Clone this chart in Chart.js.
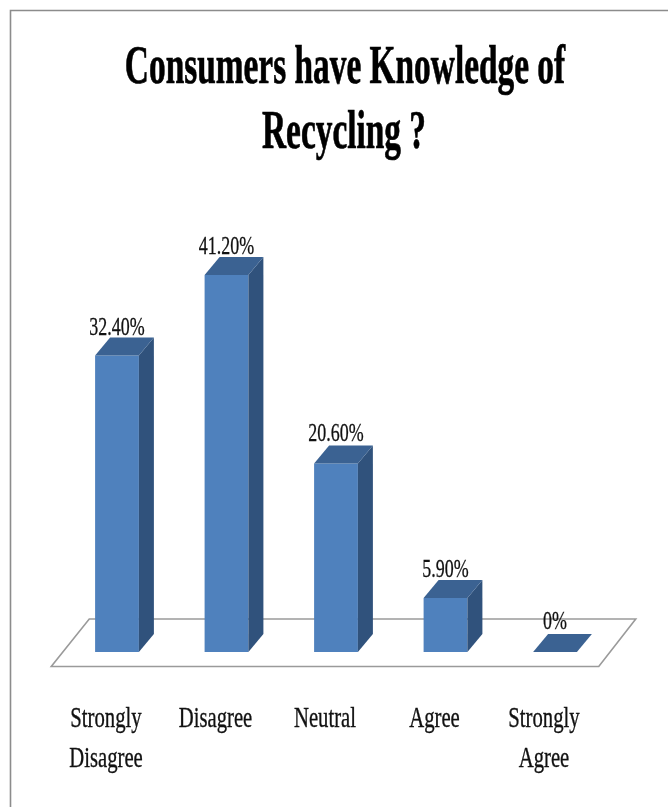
<!DOCTYPE html>
<html><head><meta charset="utf-8">
<style>html,body{margin:0;padding:0;background:#fff}canvas{display:block}</style>
<script src="https://cdn.jsdelivr.net/npm/chart.js@4"></script></head>
<body><canvas id="c" width="668" height="807"></canvas>
<script>
const categories=[["Strongly","Disagree"],"Disagree","Neutral","Agree",["Strongly","Agree"]];
const values=[32.4,41.2,20.6,5.9,0];
const valueLabels=["32.40%","41.20%","20.60%","5.90%","0%"];
const titleLines=["Consumers have Knowledge of","Recycling ?"];
const DX=15,DY=18,SERIF='"Liberation Serif"';
function squeezed(c,text,x,y,font,sx,color,weight){
 c.save();c.font=font;c.fillStyle=color;c.strokeStyle=color;c.lineWidth=weight;c.textAlign='center';c.textBaseline='alphabetic';
 c.filter='blur(0.45px)';c.translate(x,y);c.scale(sx,1);c.strokeText(text,0,0);c.fillText(text,0,0);c.restore();
}
const depth={id:'depth',
beforeDatasetsDraw(ch){const c=ch.ctx,x=ch.scales.x,y0=ch.scales.y.getPixelForValue(0);
 c.save();
 c.strokeStyle='#8c8c8c';c.lineWidth=1.6;c.beginPath();c.moveTo(10.5,807);c.lineTo(10.5,10.5);c.lineTo(668,10.5);c.stroke();
 c.fillStyle='#fff';c.strokeStyle='#9a9a9a';c.lineWidth=1.6;c.beginPath();
 c.moveTo(x.left-11,y0+14.5);c.lineTo(x.right-11,y0+14.5);c.lineTo(x.right+26,y0-33);c.lineTo(x.left+27,y0-33);c.closePath();c.fill();c.stroke();c.restore();},
afterDatasetsDraw(ch){const c=ch.ctx,m=ch.getDatasetMeta(0),x=ch.scales.x;c.save();
 m.data.forEach((b,i)=>{const w=b.width,l=b.x-w/2,r=b.x+w/2,t=b.y,bt=b.base;
  c.fillStyle='#30527c';c.beginPath();c.moveTo(r,t);c.lineTo(r+DX,t-DY);c.lineTo(r+DX,bt-DY);c.lineTo(r,bt);c.closePath();c.fill();
  c.fillStyle='#3b6292';c.beginPath();c.moveTo(l,t);c.lineTo(l+DX,t-DY);c.lineTo(r+DX,t-DY);c.lineTo(r,t);c.closePath();c.fill();
  squeezed(c,valueLabels[i],b.x,t-DY-(i==4||i==2?5:3),'26px '+SERIF,0.69,'#111',0.3);
 });
 categories.forEach((lab,i)=>{const lines=[].concat(lab),cx=x.getPixelForValue(i)-11;
  lines.forEach((s,j)=>squeezed(c,s,cx,727+j*40,'30px '+SERIF,0.69,'#111',0.35));});
 squeezed(c,titleLines[0],345,83,'bold 54px '+SERIF,0.618,'#000',0.7);
 squeezed(c,titleLines[1],344,148,'bold 54px '+SERIF,0.618,'#000',0.7);
 c.restore();}};
new Chart(document.getElementById('c'),{type:'bar',plugins:[depth],
data:{labels:categories,datasets:[{data:values,backgroundColor:'#4f81bd',categoryPercentage:0.40,barPercentage:1}]},
options:{responsive:false,animation:false,
layout:{padding:{left:62.25,right:58.25,top:194.5,bottom:155}},
plugins:{legend:{display:false},tooltip:{enabled:false},title:{display:false}},
scales:{y:{min:0,max:50,display:false},x:{display:false}}}});
</script></body></html>
